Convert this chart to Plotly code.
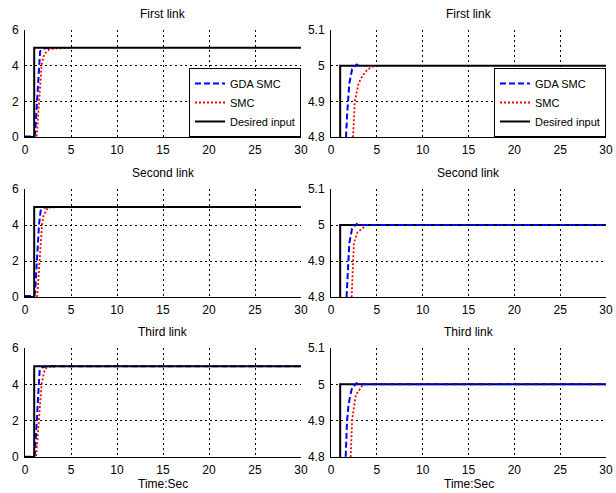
import plotly.graph_objects as go

# ---------------- data ----------------
time_desired = [0, 1, 1, 30]
desired = [0, 0, 5, 5]

link_titles = ["First link", "Second link", "Third link"]
series_names = ["GDA SMC", "SMC", "Desired input"]

x_ticks = [0, 5, 10, 15, 20, 25, 30]
y_ticks_full = [0, 2, 4, 6]
y_ticks_zoom = [4.8, 4.9, 5.0, 5.1]
y_ticktext_zoom = ["4.8", "4.9", "5", "5.1"]

# First link
gda1_t = [0, 1.0, 1.1, 1.2, 1.34, 1.45, 1.55, 1.64, 1.75, 1.85, 2.0, 2.3, 2.6, 2.8, 3.0]
gda1_y = [0.03, 0.03, 0.2, 1.0, 2.0, 3.1, 4.0, 4.8, 4.86, 4.9, 4.95, 4.99, 4.998, 5.003, 5.0]
smc1_t = [0, 1.25, 1.35, 1.52, 1.65, 1.8, 2.0, 2.2, 2.4, 2.6, 3.0, 3.4, 4.0, 4.8]
smc1_y = [0, 0, 0.6, 2.0, 3.1, 4.0, 4.5, 4.7, 4.8, 4.9, 4.95, 4.97, 4.99, 5.0]

# Second link
gda2_t = [0, 1.0, 1.1, 1.27, 1.4, 1.52, 1.7, 1.85, 2.0, 2.3, 2.6, 2.8, 3.0, 30]
gda2_y = [0.05, 0.05, 0.3, 2.0, 3.0, 4.0, 4.8, 4.9, 4.95, 4.99, 4.998, 5.003, 5.0, 5.0]
smc2_t = [0, 1.3, 1.4, 1.56, 1.7, 1.85, 2.0, 2.25, 2.4, 2.5, 2.9, 3.9]
smc2_y = [0, 0, 0.6, 2.0, 3.0, 4.0, 4.5, 4.8, 4.9, 4.95, 4.98, 5.0]

# Third link
gda3_t = [0, 1.0, 1.1, 1.25, 1.4, 1.5, 1.6, 1.75, 1.9, 2.1, 2.3, 2.6, 2.8, 3.0, 30]
gda3_y = [0.02, 0.02, 0.3, 2.0, 3.2, 4.0, 4.8, 4.9, 4.94, 4.97, 4.99, 4.998, 5.003, 5.0, 5.0]
smc3_t = [0, 1.2, 1.3, 1.5, 1.65, 1.8, 2.0, 2.15, 2.3, 2.7, 3.5]
smc3_y = [0, 0, 0.6, 2.0, 3.2, 4.0, 4.5, 4.8, 4.9, 4.97, 5.0]

gda_t = [gda1_t, gda2_t, gda3_t]
gda_y = [gda1_y, gda2_y, gda3_y]
smc_t = [smc1_t, smc2_t, smc3_t]
smc_y = [smc1_y, smc2_y, smc3_y]

# ---------------- layout geometry ----------------
W, H = 616, 493
FONT = "Liberation Sans Narrow, Liberation Sans, Arial, sans-serif"
col_x = [(25, 301), (331, 606)]
row_y = [(30, 137), (189, 297), (348, 457)]


def px_to_x(p):
    return p / W


def px_to_y(p):
    return 1 - p / H


fig = go.Figure()
layout = dict(
    width=W, height=H, autosize=False,
    margin=dict(l=0, r=0, t=0, b=0, autoexpand=False),
    paper_bgcolor="white", plot_bgcolor="white",
    font=dict(family=FONT, size=12, color="black"),
    showlegend=True,
)

annotations = []
for r in range(3):
    for c in range(2):
        idx = r * 2 + c + 1
        xa = "x" if idx == 1 else f"x{idx}"
        ya = "y" if idx == 1 else f"y{idx}"
        leg = None
        if r == 0:
            leg = "legend" if c == 0 else "legend2"
        show = r == 0

        common = dict(xaxis=xa, yaxis=ya, mode="lines", showlegend=show)
        if leg:
            common["legend"] = leg
        gda_tr = go.Scatter(x=gda_t[r], y=gda_y[r], name=series_names[0], legendrank=1,
                            line=dict(color="#0000ff", width=2, dash="6px,3px"), **common)
        smc_tr = go.Scatter(x=smc_t[r], y=smc_y[r], name=series_names[1], legendrank=2,
                            line=dict(color="#ff0000", width=1.8, dash="2px,2px"), **common)
        des_tr = go.Scatter(x=time_desired, y=desired, name=series_names[2], legendrank=3,
                            line=dict(color="black", width=2), **common)
        if c == 0:
            fig.add_trace(gda_tr)
            fig.add_trace(smc_tr)
            fig.add_trace(des_tr)
        else:
            fig.add_trace(des_tr)
            fig.add_trace(smc_tr)
            fig.add_trace(gda_tr)

        xk = "xaxis" if idx == 1 else f"xaxis{idx}"
        yk = "yaxis" if idx == 1 else f"yaxis{idx}"
        x0, x1 = col_x[c]
        y0, y1 = row_y[r]
        grid = dict(showgrid=True, gridcolor="black", gridwidth=1, griddash="2px,3px",
                    showline=True, linecolor="black", linewidth=1, mirror=False,
                    zeroline=False, ticks="", automargin=False,
                    tickfont=dict(family=FONT, size=12, color="black"))
        layout[xk] = dict(domain=[px_to_x(x0), px_to_x(x1)], anchor=ya, range=[0, 30],
                          tickvals=x_ticks, ticklabelstandoff=2, **grid)
        if c == 0:
            layout[yk] = dict(domain=[px_to_y(y1), px_to_y(y0)], anchor=xa, range=[0, 6],
                              tickvals=y_ticks_full, ticklabelstandoff=3, **grid)
        else:
            layout[yk] = dict(domain=[px_to_y(y1), px_to_y(y0)], anchor=xa, range=[4.8, 5.1],
                              tickvals=y_ticks_zoom, ticktext=y_ticktext_zoom,
                              ticklabelstandoff=3, **grid)
        annotations.append(dict(text=link_titles[r], xref="paper", yref="paper",
                                x=px_to_x((x0 + x1) / 2), y=px_to_y(y0 - 16),
                                xanchor="center", yanchor="middle", showarrow=False,
                                font=dict(family=FONT, size=12, color="black")))
        if r == 2:
            annotations.append(dict(text="Time:Sec", xref="paper", yref="paper",
                                    x=px_to_x((x0 + x1) / 2), y=px_to_y(484),
                                    xanchor="center", yanchor="middle", showarrow=False,
                                    font=dict(family=FONT, size=12, color="black")))

legend_style = dict(xanchor="right", yanchor="bottom", bgcolor="white",
                    bordercolor="black", borderwidth=1,
                    font=dict(family=FONT, size=11, color="black"),
                    itemwidth=30, tracegroupgap=0, traceorder="normal")
layout["legend"] = dict(x=px_to_x(301), y=px_to_y(137), **legend_style)
layout["legend2"] = dict(x=px_to_x(606), y=px_to_y(137), **legend_style)
layout["annotations"] = annotations

fig.update_layout(**layout)
fig.write_html(
    "out.html",
    config={"displayModeBar": False},
    post_script="document.body.style.margin='0';document.body.style.overflow='hidden';",
)
